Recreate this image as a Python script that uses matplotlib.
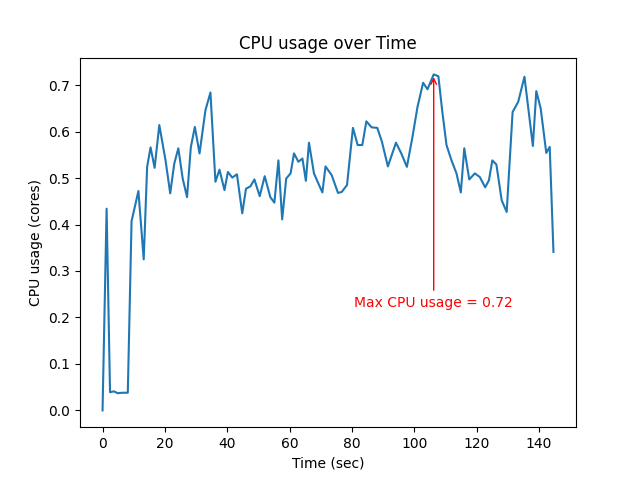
import matplotlib
matplotlib.use('Agg')
import matplotlib.pyplot as plt
import numpy as np

# --- Data ---
time_sec = [0.0, 1.3, 2.4, 3.6, 4.9, 6.3, 8.1, 9.3, 11.5, 13.2, 14.3, 15.4, 16.7, 18.2,
            20.2, 21.7, 23.0, 24.3, 25.7, 27.1, 28.3, 29.6, 31.1, 33.0, 34.6, 36.2,
            37.5, 39.1, 40.2, 41.6, 43.1, 44.8, 46.0, 47.4, 48.7, 50.4, 52.0, 53.8,
            55.1, 56.4, 57.6, 58.9, 60.3, 61.4, 62.8, 64.1, 65.2, 66.2, 67.8, 69.3,
            70.5, 71.5, 73.5, 75.5, 76.7, 78.4, 80.3, 81.8, 83.3, 84.6, 86.3, 88.1,
            89.6, 91.5, 94.1, 95.8, 97.6, 99.4, 101.0, 102.8, 104.2, 106.2, 107.7,
            108.9, 110.3, 111.9, 113.5, 114.9, 116.0, 117.6, 119.4, 121.0, 122.7,
            123.9, 125.0, 126.3, 128.0, 129.6, 131.5, 133.3, 135.3, 138.0, 139.1,
            140.5, 142.3, 143.4, 144.6]

cpu_usage = [0.0, 0.434, 0.039, 0.041, 0.037, 0.038, 0.038, 0.407, 0.472, 0.325, 0.524,
             0.566, 0.522, 0.614, 0.538, 0.467, 0.531, 0.564, 0.499, 0.459, 0.566, 0.610,
             0.553, 0.646, 0.684, 0.492, 0.518, 0.474, 0.513, 0.501, 0.508, 0.424, 0.477,
             0.482, 0.497, 0.461, 0.504, 0.459, 0.447, 0.538, 0.411, 0.499, 0.510, 0.553,
             0.535, 0.542, 0.494, 0.576, 0.510, 0.487, 0.469, 0.525, 0.506, 0.468, 0.470,
             0.485, 0.608, 0.571, 0.571, 0.622, 0.609, 0.608, 0.578, 0.525, 0.576, 0.553,
             0.524, 0.589, 0.653, 0.705, 0.691, 0.723, 0.719, 0.646, 0.571, 0.538, 0.510,
             0.469, 0.564, 0.497, 0.510, 0.502, 0.480, 0.495, 0.538, 0.529, 0.452, 0.427,
             0.642, 0.664, 0.718, 0.569, 0.687, 0.650, 0.554, 0.567, 0.341]

t = np.array(time_sec)
cpu = np.array(cpu_usage)

fig, ax = plt.subplots(figsize=(6.4, 4.8), dpi=100)
ax.plot(t, cpu)

# annotate the peak
i_max = int(np.argmax(cpu))
ax.annotate(f"Max CPU usage = {cpu[i_max]:.2f}",
            xy=(t[i_max], cpu[i_max]),
            xytext=(t[i_max], cpu[i_max] - 0.5),
            color='red', ha='center',
            arrowprops=dict(arrowstyle='->', color='red'))

ax.set_title("CPU usage over Time")
ax.set_xlabel("Time (sec)")
ax.set_ylabel("CPU usage (cores)")

fig.savefig("out.png")
